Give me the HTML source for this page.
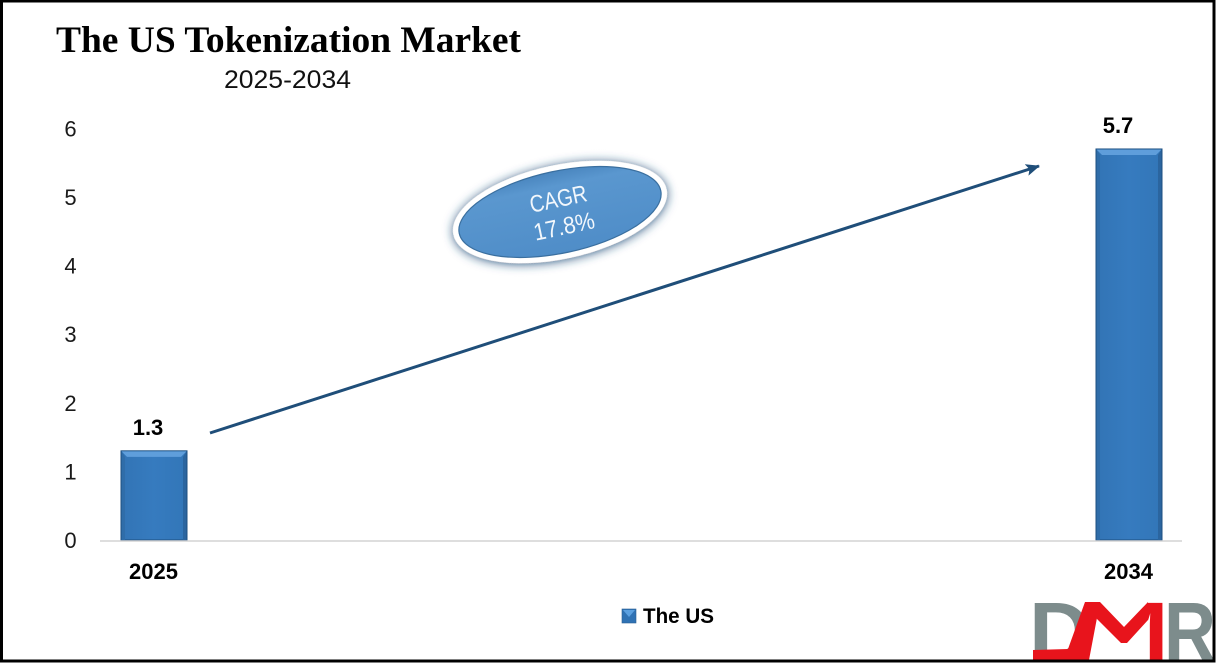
<!DOCTYPE html>
<html lang="en">
<head>
<meta charset="utf-8">
<title>The US Tokenization Market</title>
<style>
html,body{margin:0;padding:0;background:#fff;}
#frame{width:1216px;height:663px;display:block;overflow:hidden;}
text{font-family:"Liberation Sans",sans-serif;}
</style>
</head>
<body>
<svg id="frame" xmlns="http://www.w3.org/2000/svg" width="1216" height="663" viewBox="0 0 1216 663">
  <defs>
    <linearGradient id="barFill" x1="0" y1="0" x2="1" y2="0">
      <stop offset="0" stop-color="#3274b5"/>
      <stop offset="0.5" stop-color="#367bbf"/>
      <stop offset="1" stop-color="#3276b8"/>
    </linearGradient>
    <linearGradient id="ovalFill" x1="0" y1="0" x2="0" y2="1">
      <stop offset="0" stop-color="#4a86bf"/>
      <stop offset="0.18" stop-color="#5a97cf"/>
      <stop offset="1" stop-color="#4f8dc8"/>
    </linearGradient>
    <filter id="ovalShadow" x="-20%" y="-40%" width="140%" height="180%">
      <feDropShadow dx="0" dy="1" stdDeviation="5" flood-color="#1f4e79" flood-opacity="0.9"/>
    </filter>
    <marker id="arrowHead" viewBox="0 0 14 12" refX="13" refY="6" markerWidth="14" markerHeight="12" markerUnits="userSpaceOnUse" orient="auto">
      <path d="M0 0 L14 6 L0 12 L3 6 Z" fill="#1f4e79"/>
    </marker>
  </defs>

  <rect x="0" y="0" width="1216" height="663" fill="#ffffff"/>

  <text x="56" y="52" textLength="465" lengthAdjust="spacingAndGlyphs" style="font-family:'Liberation Serif',serif;font-weight:700;font-size:37px;" fill="#000">The US Tokenization Market</text>
  <text x="224" y="88" textLength="127" lengthAdjust="spacingAndGlyphs" font-size="25" fill="#111">2025-2034</text>

  <g id="yTicks"></g>
  <g id="bars"></g>
  <line x1="100" y1="541" x2="1182" y2="541" stroke="#d4d4d4" stroke-width="1.5"/>
  <g id="xLabels"></g>

  <line x1="210" y1="433" x2="1039" y2="166" stroke="#1f4e79" stroke-width="3" marker-end="url(#arrowHead)"/>

  <g transform="translate(560 212) rotate(-12)">
    <ellipse cx="0" cy="0" rx="109" ry="47" fill="#ffffff" filter="url(#ovalShadow)"/>
    <ellipse cx="0" cy="0" rx="103" ry="41" fill="url(#ovalFill)" stroke="#3a6f9f" stroke-width="1.2"/>
    <text x="1" y="-5" text-anchor="middle" textLength="58" lengthAdjust="spacingAndGlyphs" font-size="24" fill="#f2f7fc">CAGR</text>
    <text x="1" y="23" text-anchor="middle" textLength="62" lengthAdjust="spacingAndGlyphs" font-size="24" fill="#f2f7fc">17.8%</text>
  </g>

  <g>
    <rect x="622" y="609" width="14" height="14" fill="#2f72b4" stroke="#2a5f94" stroke-width="0.6"/>
    <polygon points="623,610 635,610 629,617" fill="#5ba0e0"/>
    <text x="643" y="623" textLength="71" lengthAdjust="spacingAndGlyphs" font-size="21" font-weight="700" fill="#000">The US</text>
  </g>

  <g>
    <text x="1029" y="661" textLength="62" lengthAdjust="spacingAndGlyphs" font-size="84" font-weight="700" fill="#7d8c8c">D</text>
    <text x="1164" y="661" textLength="52" lengthAdjust="spacingAndGlyphs" font-size="84" font-weight="700" fill="#7d8c8c">R</text>
    <text x="1087" y="661" textLength="82" lengthAdjust="spacingAndGlyphs" font-size="84" font-weight="700" fill="#e8141c">M</text>
    <polygon points="1086,600 1148,600 1148,662 1084,662 1080,640" fill="#ffffff"/>
    <polygon points="1087,602 1100,602 1124,627 1148,602 1148,620 1127,643 1121,643 1096,618" fill="#e8141c"/>
    <polygon points="1033,650 1068,649 1085,602 1100,602 1089,660 1033,660" fill="#e8141c"/>
  </g>

  <rect x="1.5" y="1" width="1212.5" height="660" fill="none" stroke="#000" stroke-width="3"/>
</svg>

<script>
const categories = ["2025", "2034"];
const seriesValues = [1.3, 5.7];
const valueLabels = ["1.3", "5.7"];
const yTickLabels = ["0", "1", "2", "3", "4", "5", "6"];

const NS = "http://www.w3.org/2000/svg";
const plotBottom = 540;
const unitHeight = 68.6;
const barWidth = 66;
const firstCenter = 154;
const lastCenter = 1129;
const labelNudge = [-6, -11];

function yScale(v) {
  return plotBottom - v * unitHeight;
}
function xScale(i) {
  const n = categories.length;
  return n > 1 ? firstCenter + i * (lastCenter - firstCenter) / (n - 1) : firstCenter;
}
function make(tag, attrs, parent) {
  const el = document.createElementNS(NS, tag);
  for (const k in attrs) el.setAttribute(k, attrs[k]);
  parent.appendChild(el);
  return el;
}

const yGroup = document.getElementById("yTicks");
yTickLabels.forEach(function (label) {
  const t = make("text", { x: 70.5, y: yScale(Number(label)) + 8, "text-anchor": "middle", "font-size": 22, fill: "#1a1a1a" }, yGroup);
  
  
  t.textContent = label;
});

const barGroup = document.getElementById("bars");
const xGroup = document.getElementById("xLabels");
seriesValues.forEach(function (value, i) {
  const cx = xScale(i);
  const left = cx - barWidth / 2;
  const right = cx + barWidth / 2;
  const top = yScale(value);
  const bevel = 4;

  const bar = make("rect", { x: left, y: top, width: barWidth, height: plotBottom - top, fill: "url(#barFill)", stroke: "#1d4f80", "stroke-width": 1 }, barGroup);
  
  

  const topBevel = make("polygon", { points: [left + 0.5, top + 0.5, right - 0.5, top + 0.5, right - 6, top + 6, left + 6, top + 6].join(" "), fill: "#5f9edb" }, barGroup);
  
  

  const leftBevel = make("polygon", { points: [left + 0.5, top + 0.5, left + bevel, top + 6, left + bevel, plotBottom, left + 0.5, plotBottom].join(" "), fill: "#2f6da9" }, barGroup);
  
  

  const rightBevel = make("polygon", { points: [right - 0.5, top + 0.5, right - bevel, top + 6, right - bevel, plotBottom, right - 0.5, plotBottom].join(" "), fill: "#2b659f" }, barGroup);
  
  

  const label = make("text", { x: cx + labelNudge[i], y: top - 16, "text-anchor": "middle", "font-size": 22, "font-weight": 700, fill: "#000" }, barGroup);
  
  
  label.textContent = valueLabels[i];

  const cat = make("text", { x: cx - 0.5, y: 579, "text-anchor": "middle", "font-size": 22, "font-weight": 700, fill: "#000" }, xGroup);
  
  
  cat.textContent = categories[i];
});
</script>
</body>
</html>
